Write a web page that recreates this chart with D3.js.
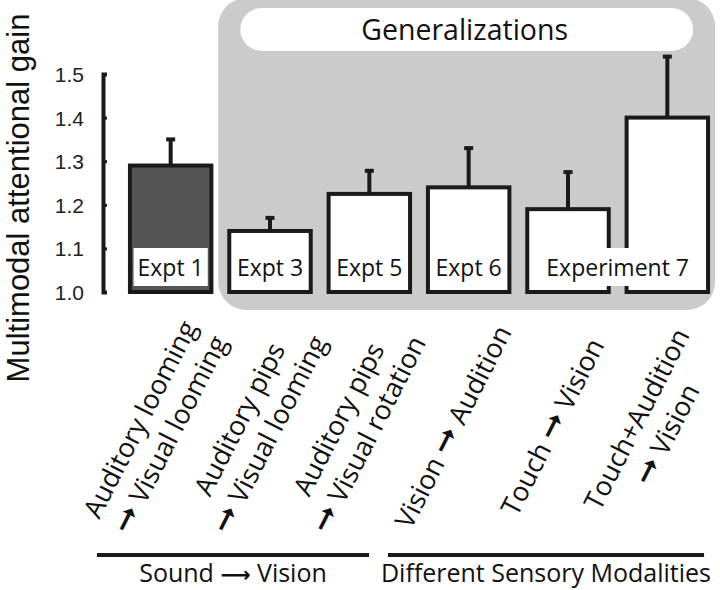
<!DOCTYPE html>
<html><head><meta charset="utf-8">
<script src="https://cdn.jsdelivr.net/npm/d3@7"></script>
<style>html,body{margin:0;padding:0;background:#fff;}</style>
</head><body>
<svg id="chart" width="720" height="590"></svg>
<script>
// ---- data ----
const categoryLines = [
  ["Auditory looming", "→ Visual looming"],
  ["Auditory pips", "→ Visual looming"],
  ["Auditory pips", "→ Visual rotation"],
  ["Vision → Audition"],
  ["Touch → Vision"],
  ["Touch+Audition", "→ Vision"]
];
const gains = [1.29, 1.14, 1.225, 1.24, 1.19, 1.40];
const errorTops = [1.35, 1.17, 1.278, 1.33, 1.275, 1.54];
const barKinds = ["original", "generalization", "generalization", "generalization", "generalization", "generalization"];
const exptLabels = ["Expt 1", "Expt 3", "Expt 5", "Expt 6", "Experiment 7"];
const exptSpans = [[0, 0], [1, 1], [2, 2], [3, 3], [4, 5]];
const groupNames = ["Sound → Vision", "Different Sensory Modalities"];
const groupSpans = [[0, 2], [3, 5]];
const yTicks = [1.0, 1.1, 1.2, 1.3, 1.4, 1.5];
const yLabel = "Multimodal attentional gain";
const panelTitle = "Generalizations";

// ---- layout ----
const svg = d3.select("#chart");
const OS = "'Open Sans', 'Noto Sans', sans-serif";
const AR = "'Liberation Sans', Arial, sans-serif";
const ARROWFONT = "'DejaVu Sans', sans-serif";

const x = d3.scaleBand().domain(d3.range(gains.length)).range([121, 717])
  .paddingInner(0.18).paddingOuter(0.09);
const y = d3.scaleLinear().domain([1.0, 1.5]).range([292, 74]);
const bw = x.bandwidth();
const cx = i => x(i) + bw / 2;

// grey generalization panel
svg.append("rect")
  .attr("x", x(1) - 11).attr("y", -2)
  .attr("width", x(5) + bw + 7 - (x(1) - 11)).attr("height", 312)
  .attr("rx", 28).attr("fill", "#cbcbcb");

// white title pill
const pillX0 = x(1) + 11, pillX1 = x(5) + bw - 15;
svg.append("rect")
  .attr("x", pillX0).attr("y", 8).attr("width", pillX1 - pillX0).attr("height", 43)
  .attr("rx", 21.5).attr("fill", "#fff");
svg.append("text")
  .attr("x", (pillX0 + pillX1) / 2 - 2).attr("y", 40)
  .attr("text-anchor", "middle").attr("font-family", OS).attr("font-size", 28.5)
  .attr("fill", "#111").text(panelTitle);

// y axis
const axis = d3.axisLeft(y).tickValues(yTicks).tickFormat(d3.format(".1f"))
  .tickSizeInner(-4).tickSizeOuter(-4).tickPadding(19);
const gAxis = svg.append("g").attr("transform", "translate(103,0)").call(axis);
gAxis.select(".domain").attr("stroke", "#1a1a1a").attr("stroke-width", 4);
gAxis.selectAll(".tick line").attr("stroke", "#1a1a1a").attr("stroke-width", 3);
gAxis.selectAll(".tick text").attr("font-family", AR).attr("font-size", 21)
  .attr("fill", "#222").attr("dy", "0.36em");

svg.append("text")
  .attr("transform", "translate(29,198) rotate(-90)")
  .attr("text-anchor", "middle").attr("font-family", AR).attr("font-size", 31)
  .attr("fill", "#111").text(yLabel);

// bars
svg.append("g").selectAll("rect").data(gains).join("rect")
  .attr("x", (d, i) => x(i)).attr("y", d => y(d))
  .attr("width", bw).attr("height", d => y(1.0) - y(d))
  .attr("fill", (d, i) => barKinds[i] === "original" ? "#555555" : "#ffffff")
  .attr("stroke", "#1a1a1a").attr("stroke-width", 4);

// error bars
const eg = svg.append("g").attr("stroke", "#1a1a1a").attr("stroke-width", 4);
errorTops.forEach((e, i) => {
  eg.append("line").attr("x1", cx(i)).attr("x2", cx(i)).attr("y1", y(gains[i])).attr("y2", y(e));
  eg.append("line").attr("x1", cx(i) - 4.5).attr("x2", cx(i) + 4.5).attr("y1", y(e)).attr("y2", y(e));
});

// experiment labels in white boxes
exptLabels.forEach((lab, k) => {
  const [a, b] = exptSpans[k];
  const c = (cx(a) + cx(b)) / 2;
  const t = svg.append("text").attr("x", c).attr("y", 276)
    .attr("text-anchor", "middle").attr("font-family", OS).attr("font-size", 23)
    .attr("fill", "#111").text(lab);
  const w = t.node().getComputedTextLength();
  svg.insert("rect", () => t.node())
    .attr("x", c - w / 2 - 4).attr("y", 248).attr("width", w + 8).attr("height", 38)
    .attr("fill", "#fff");
});

// rotated category labels
function addArrowText(sel, str, size) {
  const parts = str.split("→");
  parts.forEach((p, j) => {
    if (j > 0) sel.append("tspan").attr("font-family", ARROWFONT)
      .attr("font-size", size * 1.2).text("➞");
    if (p.length) sel.append("tspan").text(p);
  });
}
const lh = 34;
categoryLines.forEach((lines, i) => {
  const g = svg.append("g")
    .attr("transform", `translate(${cx(i) - 15},427) rotate(-63)`);
  lines.forEach((ln, j) => {
    const t = g.append("text").attr("x", 0)
      .attr("y", (j - (lines.length - 1) / 2) * lh + 9)
      .attr("text-anchor", "middle").attr("font-family", OS).attr("font-size", 27)
      .attr("fill", "#111");
    addArrowText(t, ln, 27);
  });
});

// group lines & labels
const groupOffsets = [[-33, -41], [-40, -4]];
groupSpans.forEach(([a, b], k) => {
  const x0 = x(a) + groupOffsets[k][0], x1 = x(b) + bw + groupOffsets[k][1];
  svg.append("line").attr("x1", x0).attr("x2", x1).attr("y1", 555).attr("y2", 555)
    .attr("stroke", "#1a1a1a").attr("stroke-width", 4);
  const t = svg.append("text").attr("x", (x0 + x1) / 2).attr("y", 582)
    .attr("text-anchor", "middle").attr("font-family", OS).attr("font-size", 25).attr("fill", "#111");
  const parts = groupNames[k].split("→");
  parts.forEach((p, j) => {
    if (j > 0) t.append("tspan").attr("font-family", ARROWFONT).attr("font-weight", "bold")
      .attr("font-size", 21).text("⟶");
    t.append("tspan").text(p);
  });
});
</script>
</body></html>
